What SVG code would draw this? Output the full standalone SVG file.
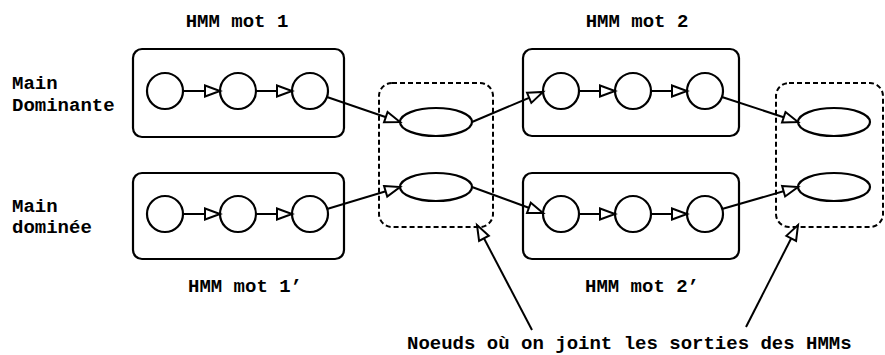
<svg xmlns="http://www.w3.org/2000/svg" width="885" height="355" viewBox="0 0 885 355">
<defs>
<marker id="tri" markerUnits="userSpaceOnUse" markerWidth="20" markerHeight="16" refX="16" refY="6.5" orient="auto" overflow="visible">
<path d="M1,1 L16,6.5 L1,12 Z" fill="#fff" stroke="#000" stroke-width="2" stroke-linejoin="miter"/>
</marker>
</defs>
<style>
.box{fill:none;stroke:#000;stroke-width:2.2}
.dbox{fill:none;stroke:#000;stroke-width:2;stroke-dasharray:5,3}
.st{fill:#fff;stroke:#000;stroke-width:2.2}
.ln{fill:none;stroke:#000;stroke-width:2;marker-end:url(#tri)}
.pt{fill:none;stroke:#000;stroke-width:2;marker-end:url(#tri)}
text{font-family:"Liberation Mono","Courier New",monospace;font-weight:bold;font-size:19px;fill:#000}
</style>
<rect width="885" height="355" fill="#fff"/>
<g id="labels">
<text x="237" y="27" text-anchor="middle">HMM mot 1</text>
<text x="637" y="27" text-anchor="middle">HMM mot 2</text>
<text x="188" y="292">HMM mot 1’</text>
<text x="585" y="292">HMM mot 2’</text>
<text x="12" y="89">Main</text>
<text x="12" y="111">Dominante</text>
<text x="12" y="212">Main</text>
<text x="12" y="233">dominée</text>
<text x="407" y="349">Noeuds où on joint les sorties des HMMs</text>
</g>
<g id="hmm1">
<rect class="box" x="133" y="49" width="211" height="88" rx="9"/>
<circle class="st" cx="165" cy="91" r="18"/>
<circle class="st" cx="238" cy="91" r="18"/>
<circle class="st" cx="310" cy="91" r="18"/>
<line class="ln" x1="183" y1="91" x2="220" y2="91"/>
<line class="ln" x1="256" y1="91" x2="292" y2="91"/>
</g>
<g id="hmm1p">
<rect class="box" x="133" y="173" width="211" height="86" rx="9"/>
<circle class="st" cx="165" cy="214" r="18"/>
<circle class="st" cx="238" cy="214" r="18"/>
<circle class="st" cx="310" cy="214" r="18"/>
<line class="ln" x1="183" y1="214" x2="220" y2="214"/>
<line class="ln" x1="256" y1="214" x2="292" y2="214"/>
</g>
<g id="hmm2">
<rect class="box" x="523" y="49" width="216" height="87" rx="9"/>
<circle class="st" cx="561" cy="91" r="18"/>
<circle class="st" cx="633" cy="91" r="18"/>
<circle class="st" cx="705" cy="91" r="18"/>
<line class="ln" x1="579" y1="91" x2="615" y2="91"/>
<line class="ln" x1="651" y1="91" x2="687" y2="91"/>
</g>
<g id="hmm2p">
<rect class="box" x="523" y="173" width="216" height="86" rx="9"/>
<circle class="st" cx="561" cy="214" r="18"/>
<circle class="st" cx="633" cy="214" r="18"/>
<circle class="st" cx="705" cy="214" r="18"/>
<line class="ln" x1="579" y1="214" x2="615" y2="214"/>
<line class="ln" x1="651" y1="214" x2="687" y2="214"/>
</g>
<g id="join1">
<rect class="dbox" x="379" y="83" width="114" height="144" rx="13"/>
<ellipse class="st" cx="436" cy="122" rx="36" ry="14"/>
<ellipse class="st" cx="436" cy="187" rx="36" ry="14"/>
</g>
<g id="join2">
<rect class="dbox" x="776" y="83" width="107" height="144" rx="13"/>
<ellipse class="st" cx="834" cy="122" rx="36" ry="14"/>
<ellipse class="st" cx="834" cy="187" rx="36" ry="14"/>
</g>
<g id="connectors">
<line class="ln" x1="327" y1="97" x2="400" y2="122"/>
<line class="ln" x1="327" y1="209" x2="400" y2="187"/>
<line class="ln" x1="472" y1="122" x2="543" y2="92"/>
<line class="ln" x1="472" y1="187" x2="543" y2="213"/>
<line class="ln" x1="722" y1="97" x2="798" y2="122"/>
<line class="ln" x1="722" y1="209" x2="798" y2="187"/>
<line class="pt" x1="532" y1="330" x2="477" y2="225"/>
<line class="pt" x1="746" y1="327" x2="798" y2="225"/>
</g>
</svg>
